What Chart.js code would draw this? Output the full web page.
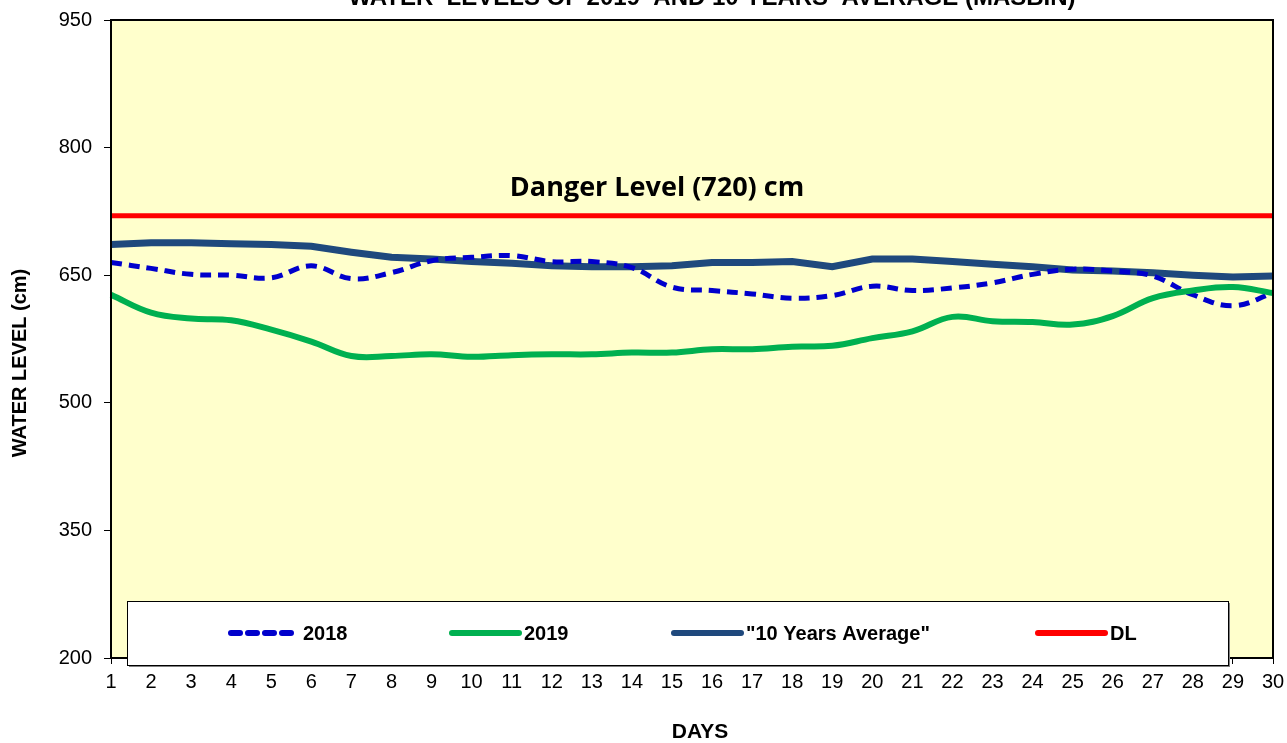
<!DOCTYPE html>
<html>
<head>
<meta charset="utf-8">
<script src="https://cdn.jsdelivr.net/npm/chart.js@4.4.0/dist/chart.umd.min.js"></script>
<style>
  html, body { margin: 0; padding: 0; background: #fff; }
  #wrap { width: 1287px; height: 743px; position: relative; }
</style>
</head>
<body>
<div id="wrap"><canvas id="levelChart" width="1287" height="743"></canvas></div>
<script>
// days of the month
const days = Array.from({ length: 30 }, (_, i) => String(i + 1));

// water levels (cm)
const levels2018 = [665, 658, 651, 650, 647, 661, 646, 653, 667, 671, 673, 666, 666, 659, 636,
                    632, 628, 623, 626, 637, 632, 635, 641, 651, 657, 655, 649, 627, 614, 629];
const levels2019 = [627, 606, 599, 597, 586, 572, 555, 555, 557, 554, 556, 557, 557, 559, 559,
                    563, 563, 566, 567, 576, 584, 601, 596, 595, 592, 602, 623, 632, 636, 629];
const tenYearAvg = [686, 688, 688, 687, 686, 684, 677, 671, 669, 666, 664, 661, 660, 660, 661,
                    665, 665, 666, 660, 669, 669, 666, 663, 660, 656, 655, 653, 650, 648, 649];
const dangerLevel = days.map(() => 720);

const yTicks = [200, 350, 500, 650, 800, 950];

const legendItems = [
    { label: '2018', color: '#0000CC', dash: [9, 8], x: 228 },
    { label: '2019', color: '#00B050', dash: [], x: 449 },
    { label: '"10 Years Average"', color: '#1F497D', dash: [], x: 671 },
    { label: 'DL', color: '#FF0000', dash: [], x: 1035 }
];

const ARIAL = '"Liberation Sans", Arial, sans-serif';

const extras = {
    id: 'extras',
    beforeDraw(chart) {
        const { ctx, chartArea: a } = chart;
        ctx.save();
        ctx.fillStyle = '#FFFFCC';
        ctx.fillRect(a.left, a.top, a.right - a.left, a.bottom - a.top);
        ctx.restore();
    },
    afterDraw(chart) {
        const { ctx, chartArea: a } = chart;
        ctx.save();
        // frame
        ctx.strokeStyle = '#000';
        ctx.lineWidth = 2;
        ctx.strokeRect(a.left, a.top, a.right - a.left, a.bottom - a.top);

        // cut-off title
        ctx.fillStyle = '#000';
        ctx.font = 'bold 24px ' + ARIAL;
        ctx.textAlign = 'center';
        ctx.textBaseline = 'alphabetic';
        ctx.fillText('WATER  LEVELS OF 2019  AND 10 YEARS  AVERAGE (MASBIN)', 712, 5);

        // danger label
        const yDL = chart.scales.y.getPixelForValue(720);
        ctx.font = 'bold 27px "Open Sans", sans-serif';
        ctx.textBaseline = 'middle';
        ctx.fillText('Danger Level (720) cm', 657, yDL - 27);

        // axis titles
        ctx.font = 'bold 21px ' + ARIAL;
        ctx.fillText('DAYS', 700, 732);
        ctx.save();
        ctx.translate(20, 363);
        ctx.rotate(-Math.PI / 2);
        ctx.font = 'bold 20px ' + ARIAL;
        ctx.fillText('WATER LEVEL (cm)', 0, 0);
        ctx.restore();

        // legend box
        const bx = 127, by = 601, bw = 1101, bh = 64;
        ctx.fillStyle = '#808080';
        ctx.fillRect(bx + 2, by + 2, bw, bh);
        ctx.fillStyle = '#fff';
        ctx.fillRect(bx, by, bw, bh);
        ctx.strokeStyle = '#000';
        ctx.lineWidth = 1;
        ctx.strokeRect(bx + 0.5, by + 0.5, bw, bh);

        ctx.font = 'bold 20px ' + ARIAL;
        ctx.textAlign = 'left';
        ctx.textBaseline = 'middle';
        const ly = 633;
        legendItems.forEach(it => {
            ctx.strokeStyle = it.color;
            ctx.lineWidth = 6;
            ctx.lineCap = 'round';
            ctx.setLineDash(it.dash);
            ctx.beginPath();
            ctx.moveTo(it.x + 3, ly);
            ctx.lineTo(it.x + 70, ly);
            ctx.stroke();
            ctx.setLineDash([]);
            ctx.fillStyle = '#000';
            ctx.fillText(it.label, it.x + 75, ly + 1);
        });
        ctx.restore();
    }
};

new Chart(document.getElementById('levelChart'), {
    type: 'line',
    data: {
        labels: days,
        datasets: [
            { label: '2019', data: levels2019, borderColor: '#00B050', borderWidth: 6, tension: 0.4 },
            { label: '2018', data: levels2018, borderColor: '#0000CC', borderWidth: 5, borderDash: [11, 7], tension: 0.4 },
            { label: '"10 Years Average"', data: tenYearAvg, borderColor: '#1F497D', borderWidth: 7, tension: 0 },
            { label: 'DL', data: dangerLevel, borderColor: '#FF0000', borderWidth: 5, tension: 0 }
        ]
    },
    options: {
        responsive: false,
        animation: false,
        layout: { padding: { left: 0, top: 20, right: 14, bottom: 0 } },
        elements: { point: { radius: 0 }, line: { borderCapStyle: 'butt' } },
        plugins: { legend: { display: false }, tooltip: { enabled: false } },
        scales: {
            x: {
                offset: false,
                afterFit: s => { s.height = 85; s.paddingLeft = 0; s.paddingRight = 0; },
                grid: { drawOnChartArea: false, color: '#000', tickLength: 6, tickColor: '#000' },
                border: { color: '#000', width: 2 },
                ticks: { color: '#000', font: { family: ARIAL, size: 20 }, maxRotation: 0, autoSkip: false, padding: 6 }
            },
            y: {
                min: 200,
                max: 950,
                afterFit: s => { s.width = 111; s.paddingTop = 0; s.paddingBottom = 0; },
                afterBuildTicks: s => { s.ticks = yTicks.map(v => ({ value: v })); },
                grid: { drawOnChartArea: false, color: '#000', tickLength: 7, tickColor: '#000' },
                border: { color: '#000', width: 2 },
                ticks: { color: '#000', font: { family: ARIAL, size: 20 }, padding: 12 }
            }
        }
    },
    plugins: [extras]
});
</script>
</body>
</html>
